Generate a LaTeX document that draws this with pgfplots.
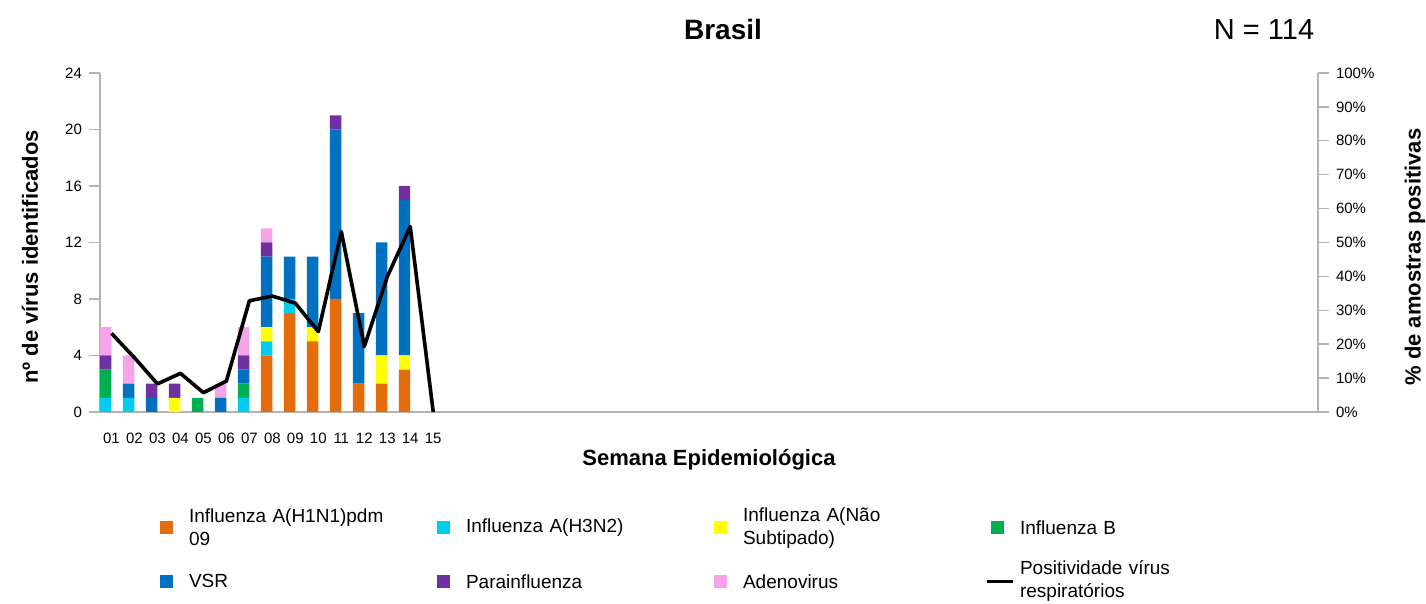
\documentclass[border=0pt]{standalone}
\usepackage{fontspec}
\setmainfont{Liberation Sans}
\usepackage{pgfplots}
\pgfplotsset{compat=1.18}
\definecolor{cH1}{HTML}{E46C0A}
\definecolor{cH3}{HTML}{00CCEE}
\definecolor{cNS}{HTML}{FFFF00}
\definecolor{cB}{HTML}{00B050}
\definecolor{cVSR}{HTML}{0070C0}
\definecolor{cPara}{HTML}{7030A0}
\definecolor{cAdeno}{HTML}{F7A3EA}
\definecolor{axgrey}{HTML}{B3B3B3}
\pgfplotsset{
  base/.style={
    scale only axis, width=609pt, height=169.5pt,
    at={(50pt,96pt)}, anchor=south west,
    xmin=0.5, xmax=53.5,
    axis line style={axgrey, line width=0.7pt},
    tick style={axgrey, line width=0.7pt},
    tick align=outside,
    major tick length=5.5pt, minor tick length=3pt,
    tick label style={font=\fontsize{7.5}{9}\selectfont, text=black},
    label style={font=\fontsize{11}{13}\selectfont\bfseries},
  }
}
\begin{document}
\begin{tikzpicture}
\begin{axis}[base, clip=false,
  axis x line*=bottom, axis y line*=left,
  ymin=0, ymax=24, ytick={0,4,...,24}, yticklabels={0,4,8,12,16,20,24},
  xtick={1,...,15}, xticklabels={01,02,03,04,05,06,07,08,09,10,11,12,13,14,15},
  xtick style={draw=none},
  xticklabel style={yshift=-1.5pt},
  minor xtick={1.5,2.5,...,52.5},
  ybar stacked, bar width=0.5, bar shift=-0.25,
  ylabel={nº de vírus identificados},
  ylabel style={at={(axis description cs:-0.0575,0.457)}, anchor=center},
  xlabel={Semana Epidemiológica},
  xlabel style={at={(axis description cs:0.5,-0.1416)}, anchor=center},
  legend columns=4,
  legend image code/.code={\fill[#1] (0pt,-3.25pt) rectangle (6.5pt,3.25pt);},
  legend style={draw=none, fill=none, inner sep=0pt,
    at={(axis description cs:0.049,-0.274)}, anchor=north west,
    font=\fontsize{9.5}{11.5}\selectfont,
    cells={anchor=west},
    nodes={text width=116pt, align=left, anchor=west, inner xsep=4pt, inner ysep=1pt, text depth=},
    column sep=4pt, row sep=4.5pt},
]
\addplot[fill=cH1, draw=none] coordinates {(1,0) (2,0) (3,0) (4,0) (5,0) (6,0) (7,0) (8,4) (9,7) (10,5) (11,8) (12,2) (13,2) (14,3)};
\addlegendentry{Influenza A(H1N1)pdm\\09}
\addplot[fill=cH3, draw=none] coordinates {(1,1) (2,1) (3,0) (4,0) (5,0) (6,0) (7,1) (8,1) (9,1) (10,0) (11,0) (12,0) (13,0) (14,0)};
\addlegendentry{Influenza A(H3N2)}
\addplot[fill=cNS, draw=none] coordinates {(1,0) (2,0) (3,0) (4,1) (5,0) (6,0) (7,0) (8,1) (9,0) (10,1) (11,0) (12,0) (13,2) (14,1)};
\addlegendentry{Influenza A(Não\\Subtipado)}
\addplot[fill=cB, draw=none] coordinates {(1,2) (2,0) (3,0) (4,0) (5,1) (6,0) (7,1) (8,0) (9,0) (10,0) (11,0) (12,0) (13,0) (14,0)};
\addlegendentry{Influenza B}
\addplot[fill=cVSR, draw=none] coordinates {(1,0) (2,1) (3,1) (4,0) (5,0) (6,1) (7,1) (8,5) (9,3) (10,5) (11,12) (12,5) (13,8) (14,11)};
\addlegendentry{VSR}
\addplot[fill=cPara, draw=none] coordinates {(1,1) (2,0) (3,1) (4,1) (5,0) (6,0) (7,1) (8,1) (9,0) (10,0) (11,1) (12,0) (13,0) (14,1)};
\addlegendentry{Parainfluenza}
\addplot[fill=cAdeno, draw=none] coordinates {(1,2) (2,2) (3,0) (4,0) (5,0) (6,1) (7,2) (8,1) (9,0) (10,0) (11,0) (12,0) (13,0) (14,0)};
\addlegendentry{Adenovirus}
\addlegendimage{draw=none, fill=none, legend image code/.code={\path[draw=none, fill=none] (0pt,-3.25pt) rectangle (6.5pt,3.25pt); \draw[overlay, draw=black, line width=1.7pt] (-2pt,0pt) -- (11pt,0pt);}}
\addlegendentry{Positividade vírus\\respiratórios}
\node[font=\fontsize{14}{16}\selectfont\bfseries] at (axis description cs:0.5115,1.127) {Brasil};
\node[font=\fontsize{14.5}{16}\selectfont] at (axis description cs:0.9557,1.127) {N = 114};
\end{axis}
\begin{axis}[base,
  axis x line=none, axis y line*=right,
  ymin=0, ymax=100, ytick={0,10,...,100},
  yticklabels={0\%,10\%,20\%,30\%,40\%,50\%,60\%,70\%,80\%,90\%,100\%},
  ylabel={\% de amostras positivas},
  ylabel style={at={(axis description cs:1.0796,0.457)}, anchor=center},
]
\addplot[black, line width=1.8pt, line join=round, mark=none] coordinates {
(1,23.2) (2,16.0) (3,8.3) (4,11.4) (5,5.7) (6,9.1) (7,32.8) (8,34.2) (9,32.1) (10,23.7) (11,53.2) (12,19.3) (13,39.9) (14,54.7) (15,0)};
\end{axis}
\pgfresetboundingbox
\path[use as bounding box] (0,0) rectangle (713pt,302pt);
\end{tikzpicture}
\end{document}
